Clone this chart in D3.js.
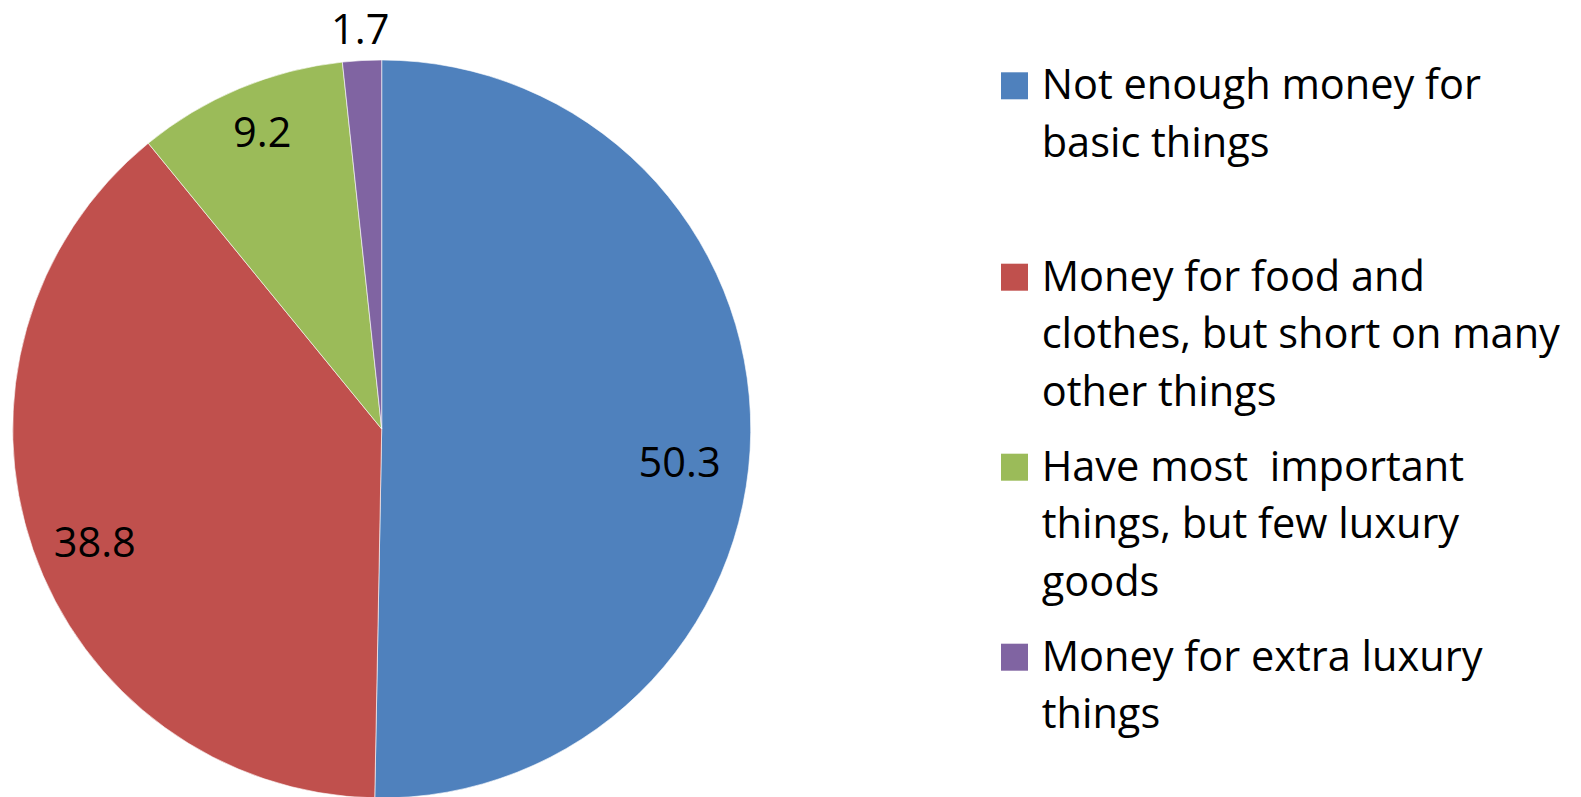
<!DOCTYPE html>
<html>
<head>
<meta charset="utf-8">
<script src="https://cdn.jsdelivr.net/npm/d3@7"></script>
<style>
  html, body { margin: 0; padding: 0; background: #fff; }
  svg { display: block; }
  text { font-family: "Open Sans", Lato, sans-serif; fill: #000; }
</style>
</head>
<body>
<svg id="chart" width="1581" height="797"></svg>
<script>
// Share of households by how well their money stretches
const categories = [
  "Not enough money for basic things",
  "Money for food and clothes, but short on many other things",
  "Have most  important things, but few luxury goods",
  "Money for extra luxury things"
];
const values = [50.3, 38.8, 9.2, 1.7];
const colors = ["#4F81BD", "#C0504D", "#9BBB59", "#8064A2"];
// Legend entries wrapped the way they are set on the page
const legendLines = [
  ["Not enough money for", "basic things"],
  ["Money for food and", "clothes, but short on many", "other things"],
  ["Have most\u00A0 important", "things, but few luxury", "goods"],
  ["Money for extra luxury", "things"]
];

const W = 1581, H = 797;
const cx = 381.7, cy = 429, R = 369;
const fontSize = 41.5;

const svg = d3.select("#chart");

const pie = d3.pie().sort(null).value(d => d.value);
const data = categories.map((c, i) => ({ category: c, value: values[i], color: colors[i] }));
const arcs = pie(data);

const arc = d3.arc().innerRadius(0).outerRadius(R);

const g = svg.append("g").attr("transform", `translate(${cx},${cy})`);

g.selectAll("path.slice")
  .data(arcs)
  .join("path")
  .attr("class", "slice")
  .attr("d", arc)
  .attr("fill", d => d.data.color)
  .attr("stroke", "#ffffff")
  .attr("stroke-opacity", 0.6)
  .attr("stroke-width", 1);

// Data labels: inside the slice for big ones, just past the rim for the thin one
const insideArc = d3.arc().innerRadius(R * 0.84).outerRadius(R * 0.84);
const outsideArc = d3.arc().innerRadius(R + 32).outerRadius(R + 32);
// small hand adjustments so labels clear the slice edges
const labelNudge = [[-12, 30], [6, 12], [0, -11], [0, 0]];

g.selectAll("text.value")
  .data(arcs)
  .join("text")
  .attr("class", "value")
  .attr("text-anchor", "middle")
  .attr("dy", "0.36em")
  .attr("font-size", fontSize)
  .attr("transform", (d, i) => {
    const share = (d.endAngle - d.startAngle) / (2 * Math.PI);
    const [x, y] = share < 0.05 ? outsideArc.centroid(d) : insideArc.centroid(d);
    const [nx, ny] = labelNudge[i];
    return `translate(${x + nx},${y + ny})`;
  })
  .text(d => d3.format(".1f")(d.value));

// Legend
const legendX = 1001, textX = 1041.7, sw = 27, lineH = 57.5;
const firstBaselines = [99.3, 290.7, 480.7, 670.7];

const items = svg.append("g").attr("class", "legend")
  .selectAll("g.item")
  .data(data)
  .join("g")
  .attr("class", "item");

items.append("rect")
  .attr("x", legendX)
  .attr("y", (d, i) => firstBaselines[i] - sw)
  .attr("width", sw)
  .attr("height", sw)
  .attr("fill", d => d.color);

items.append("text")
  .attr("font-size", fontSize)
  .attr("x", textX)
  .attr("y", (d, i) => firstBaselines[i])
  .selectAll("tspan")
  .data((d, i) => legendLines[i])
  .join("tspan")
  .attr("x", textX)
  .attr("dy", (l, j) => j === 0 ? 0 : lineH)
  .text(l => l);
</script>
</body>
</html>
